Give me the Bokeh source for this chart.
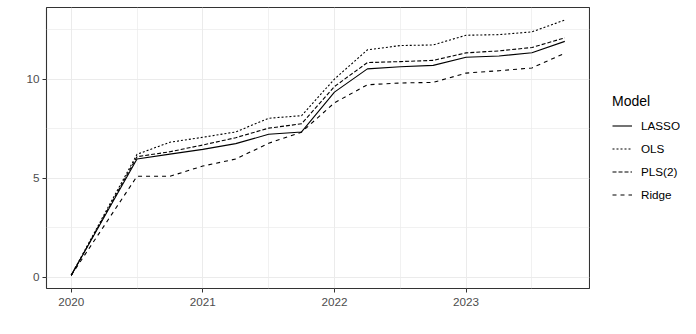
from bokeh.plotting import figure
from bokeh.models import Legend, LegendItem, FixedTicker, Range1d
from bokeh.layouts import row
from bokeh.embed import file_html
from bokeh.resources import INLINE

# Data (quarterly, decimal years)
quarters = [2020.0, 2020.25, 2020.5, 2020.75, 2021.0, 2021.25, 2021.5, 2021.75,
            2022.0, 2022.25, 2022.5, 2022.75, 2023.0, 2023.25, 2023.5, 2023.75]
lasso = [0.09, 3.02, 5.96, 6.21, 6.45, 6.74, 7.21, 7.33,
         9.34, 10.51, 10.62, 10.69, 11.10, 11.16, 11.33, 11.90]
ols = [0.09, 3.15, 6.20, 6.81, 7.06, 7.33, 8.02, 8.15,
       10.0, 11.47, 11.69, 11.72, 12.21, 12.24, 12.38, 12.98]
pls2 = [0.09, 3.08, 6.08, 6.33, 6.67, 7.04, 7.52, 7.74,
        9.62, 10.83, 10.88, 10.94, 11.32, 11.42, 11.59, 12.08]
ridge = [0.09, 2.59, 5.09, 5.09, 5.61, 5.96, 6.76, 7.32,
         8.80, 9.71, 9.80, 9.83, 10.30, 10.42, 10.56, 11.30]

models = ["LASSO", "OLS", "PLS(2)", "Ridge"]
series = [lasso, ols, pls2, ridge]
dashes = ["solid", "2 2", "4 2", "4 4"]

x_ticks = [2020, 2021, 2022, 2023]
x_minor = [2020.5, 2021.5, 2022.5, 2023.5]
y_ticks = [0, 5, 10]
y_minor = [2.5, 7.5, 12.5]

FONT = "Liberation Sans"

# main panel
p = figure(width=590, height=318, output_backend="svg", toolbar_location=None,
           x_range=Range1d(2019.8125, 2023.9375), y_range=Range1d(-0.572, 13.61),
           min_border_left=46, min_border_right=1, min_border_top=7,
           min_border_bottom=30)
p.background_fill_color = "white"
p.border_fill_color = "white"
p.outline_line_color = "#333333"
p.outline_line_width = 1.1

for name, ys, dash in zip(models, series, dashes):
    p.line(quarters, ys, line_color="black", line_width=1.1, line_dash=dash)

p.xaxis.ticker = FixedTicker(ticks=x_ticks, minor_ticks=x_minor)
p.yaxis.ticker = FixedTicker(ticks=y_ticks, minor_ticks=y_minor)

for ax in (p.xaxis, p.yaxis):
    ax.axis_line_color = None
    ax.major_tick_line_color = "#333333"
    ax.major_tick_out = 4
    ax.major_tick_in = 0
    ax.minor_tick_out = 0
    ax.minor_tick_in = 0
    ax.major_label_text_font = FONT
    ax.major_label_text_font_size = "11.7px"
    ax.major_label_text_color = "#4d4d4d"
p.xaxis.major_label_standoff = 5
p.yaxis.major_label_standoff = 3

for g in (p.xgrid, p.ygrid):
    g.grid_line_color = "#ebebeb"
    g.grid_line_width = 1
    g.minor_grid_line_color = "#ebebeb"
    g.minor_grid_line_width = 0.7

# legend panel (its own lines fall outside its view; only the legend shows)
lg = figure(width=90, height=318, output_backend="svg", toolbar_location=None,
            x_range=Range1d(0, 1), y_range=Range1d(0, 1),
            x_axis_type=None, y_axis_type=None,
            min_border_left=0, min_border_right=0, min_border_top=7,
            min_border_bottom=30)
lg.outline_line_color = None
lg.grid.visible = False
lg.background_fill_color = "white"
lg.border_fill_color = "white"

items = []
for name, ys, dash in zip(models, series, dashes):
    r = lg.line(quarters, ys, line_color="black", line_width=1.1, line_dash=dash)
    items.append(LegendItem(label=name, renderers=[r]))

legend = Legend(items=items, location=(22, 82), title="Model")
legend.title_text_font = FONT
legend.title_text_font_size = "14px"
legend.title_text_font_style = "normal"
legend.title_text_color = "black"
legend.title_standoff = 5
legend.label_text_font = FONT
legend.label_text_font_size = "11.7px"
legend.label_text_color = "black"
legend.glyph_width = 20
legend.glyph_height = 23
legend.label_height = 23
legend.label_standoff = 9
legend.spacing = 0
legend.padding = 0
legend.margin = 0
legend.background_fill_alpha = 0
legend.border_line_alpha = 0
lg.add_layout(legend, "center")

layout = row(p, lg)
open("out.html", "w").write(file_html(layout, INLINE))
